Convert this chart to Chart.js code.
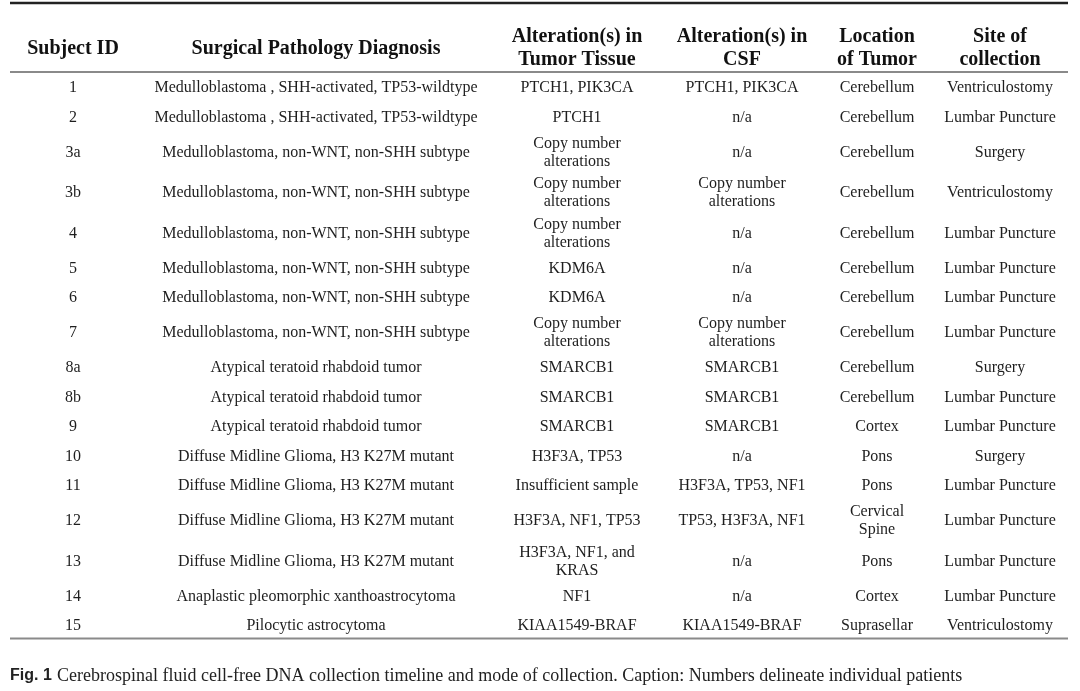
<!DOCTYPE html>
<html>
<head>
<meta charset="utf-8">
<script src="https://cdn.jsdelivr.net/npm/chart.js@4.4.1/dist/chart.umd.min.js"></script>
<style>
  html, body { margin: 0; padding: 0; background: #fff; }
  #wrap { width: 1080px; height: 691px; }
</style>
</head>
<body>
<div id="wrap"><canvas id="tableChart" width="1080" height="691"></canvas></div>
<script>
// Table content
const headers = ["Subject ID", "Surgical Pathology Diagnosis", "Alteration(s) in\nTumor Tissue", "Alteration(s) in\nCSF", "Location\nof Tumor", "Site of\ncollection"];
const subjectIds = ["1", "2", "3a", "3b", "4", "5", "6", "7", "8a", "8b", "9", "10", "11", "12", "13", "14", "15"];
const diagnoses = [
  "Medulloblastoma , SHH-activated, TP53-wildtype",
  "Medulloblastoma , SHH-activated, TP53-wildtype",
  "Medulloblastoma, non-WNT, non-SHH subtype",
  "Medulloblastoma, non-WNT, non-SHH subtype",
  "Medulloblastoma, non-WNT, non-SHH subtype",
  "Medulloblastoma, non-WNT, non-SHH subtype",
  "Medulloblastoma, non-WNT, non-SHH subtype",
  "Medulloblastoma, non-WNT, non-SHH subtype",
  "Atypical teratoid rhabdoid tumor",
  "Atypical teratoid rhabdoid tumor",
  "Atypical teratoid rhabdoid tumor",
  "Diffuse Midline Glioma, H3 K27M mutant",
  "Diffuse Midline Glioma, H3 K27M mutant",
  "Diffuse Midline Glioma, H3 K27M mutant",
  "Diffuse Midline Glioma, H3 K27M mutant",
  "Anaplastic pleomorphic xanthoastrocytoma",
  "Pilocytic astrocytoma"
];
const tumorAlterations = [
  "PTCH1, PIK3CA", "PTCH1", "Copy number\nalterations", "Copy number\nalterations",
  "Copy number\nalterations", "KDM6A", "KDM6A", "Copy number\nalterations",
  "SMARCB1", "SMARCB1", "SMARCB1", "H3F3A, TP53", "Insufficient sample",
  "H3F3A, NF1, TP53", "H3F3A, NF1, and\nKRAS", "NF1", "KIAA1549-BRAF"
];
const csfAlterations = [
  "PTCH1, PIK3CA", "n/a", "n/a", "Copy number\nalterations", "n/a", "n/a", "n/a",
  "Copy number\nalterations", "SMARCB1", "SMARCB1", "SMARCB1", "n/a",
  "H3F3A, TP53, NF1", "TP53, H3F3A, NF1", "n/a", "n/a", "KIAA1549-BRAF"
];
const tumorLocations = [
  "Cerebellum", "Cerebellum", "Cerebellum", "Cerebellum", "Cerebellum", "Cerebellum",
  "Cerebellum", "Cerebellum", "Cerebellum", "Cerebellum", "Cortex", "Pons", "Pons",
  "Cervical\nSpine", "Pons", "Cortex", "Suprasellar"
];
const collectionSites = [
  "Ventriculostomy", "Lumbar Puncture", "Surgery", "Ventriculostomy", "Lumbar Puncture",
  "Lumbar Puncture", "Lumbar Puncture", "Lumbar Puncture", "Surgery", "Lumbar Puncture",
  "Lumbar Puncture", "Surgery", "Lumbar Puncture", "Lumbar Puncture", "Lumbar Puncture",
  "Lumbar Puncture", "Ventriculostomy"
];
const captionLabel = "Fig. 1";
const captionText = "Cerebrospinal fluid cell-free DNA collection timeline and mode of collection. Caption: Numbers delineate individual patients";

const columns = [subjectIds, diagnoses, tumorAlterations, csfAlterations, tumorLocations, collectionSites];

// layout (pixel units of the hidden linear scales)
const colCenters = [73, 316, 577, 742, 877, 1000];
const tableLeft = 10, tableRight = 1068;
const topRule = 3, headerRule = 72, headerMid = 47;
const lineRowH = 29.5, extraLineH = 11;

// row centres follow from how many text lines each row holds
const rowLines = subjectIds.map((_, i) => Math.max(...columns.map(c => c[i].split("\n").length)));
const rowCenters = [];
let cursor = headerRule;
rowLines.forEach(n => {
  const h = lineRowH + (n - 1) * extraLineH;
  rowCenters.push(cursor + h / 2);
  cursor += h;
});
const bottomRule = cursor - 1;

const datasets = columns.map((col, c) => ({
  label: headers[c],
  data: col.map((_, i) => ({ x: colCenters[c], y: rowCenters[i] })),
  texts: col,
  pointRadius: 0
}));
datasets.push({
  label: "header",
  data: headers.map((_, c) => ({ x: colCenters[c], y: headerMid })),
  texts: headers,
  isHeader: true,
  pointRadius: 0
});

const tablePlugin = {
  id: "tableText",
  beforeDraw(chart) {
    const ctx = chart.ctx;
    ctx.save();
    ctx.fillStyle = "#fff";
    ctx.fillRect(0, 0, chart.width, chart.height);
    ctx.restore();
  },
  afterDatasetsDraw(chart) {
    const ctx = chart.ctx;
    const xs = chart.scales.x, ys = chart.scales.y;
    const x0 = xs.getPixelForValue(tableLeft), x1 = xs.getPixelForValue(tableRight);

    ctx.save();
    // rules
    const rule = (y, w, color) => {
      const py = ys.getPixelForValue(y);
      ctx.beginPath();
      ctx.strokeStyle = color;
      ctx.lineWidth = w;
      ctx.moveTo(x0, py);
      ctx.lineTo(x1, py);
      ctx.stroke();
    };
    rule(topRule, 2.5, "#222");
    rule(headerRule, 2, "#8a8a8a");
    rule(bottomRule, 2, "#8a8a8a");

    // cell text
    ctx.textAlign = "center";
    ctx.textBaseline = "middle";
    chart.data.datasets.forEach((ds, di) => {
      const meta = chart.getDatasetMeta(di);
      const lh = ds.isHeader ? 23 : 18;
      ctx.font = ds.isHeader ? "bold 20px 'Liberation Serif', 'Times New Roman', serif"
                             : "16px 'Liberation Serif', 'Times New Roman', serif";
      ctx.fillStyle = ds.isHeader ? "#111" : "#1e1e1e";
      meta.data.forEach((pt, i) => {
        const lines = ds.texts[i].split("\n");
        const start = pt.y + 1.5 - (lines.length - 1) * lh / 2;
        lines.forEach((ln, k) => ctx.fillText(ln, pt.x, start + k * lh));
      });
    });

    // caption
    ctx.textAlign = "left";
    ctx.textBaseline = "middle";
    const cy = ys.getPixelForValue(676);
    ctx.font = "bold 16px 'Liberation Sans', Arial, sans-serif";
    ctx.fillStyle = "#222";
    ctx.fillText(captionLabel, xs.getPixelForValue(10), cy);
    ctx.font = "18px 'Liberation Serif', 'Times New Roman', serif";
    ctx.fillText(captionText, xs.getPixelForValue(57), cy);
    ctx.restore();
  }
};

new Chart(document.getElementById("tableChart").getContext("2d"), {
  type: "scatter",
  data: { datasets: datasets },
  options: {
    responsive: false,
    devicePixelRatio: 1,
    animation: false,
    layout: { padding: 0 },
    plugins: { legend: { display: false }, tooltip: { enabled: false } },
    scales: {
      x: { type: "linear", min: 0, max: 1080, display: false },
      y: { type: "linear", min: 0, max: 691, reverse: true, display: false }
    }
  },
  plugins: [tablePlugin]
});
</script>
</body>
</html>
